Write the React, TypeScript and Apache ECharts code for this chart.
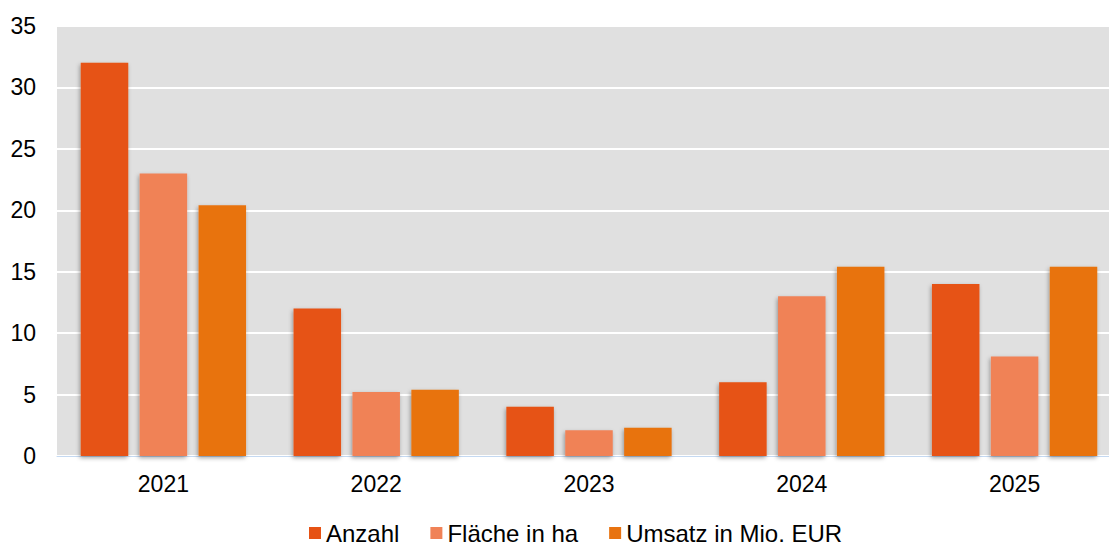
import React, { useEffect, useRef } from "react";
import * as echarts from "echarts";

const categories = ["2021", "2022", "2023", "2024", "2025"];
const anzahl = [32, 12, 4, 6, 14];
const flaeche = [23, 5.2, 2.1, 13, 8.1];
const umsatz = [20.4, 5.4, 2.3, 15.4, 15.4];
const seriesNames = ["Anzahl", "Fläche in ha", "Umsatz in Mio. EUR"];
const colors = ["#e65214", "#f08257", "#e87310"];

export default function App() {
  const ref = useRef<HTMLDivElement>(null);
  useEffect(() => {
    if (!ref.current) return;
    const chart = echarts.init(ref.current, null, { renderer: "svg" });
    const font = "Liberation Sans, Arial, sans-serif";
    const mk = (name: string, data: number[], color: string) => ({
      name,
      type: "bar",
      data,
      barWidth: 47.5,
      barGap: "24%",
      itemStyle: {
        color,
        shadowColor: "rgba(0,0,0,0.35)",
        shadowBlur: 4,
        shadowOffsetX: -1,
        shadowOffsetY: 2,
      },
    });
    chart.setOption({
      animation: false,
      textStyle: { fontFamily: font },
      grid: {
        left: 57,
        top: 26,
        width: 1064,
        height: 430,
        show: true,
        backgroundColor: "#e0e0e0",
        borderWidth: 0,
      },
      legend: {
        left: 309,
        top: 521,
        padding: 0,
        itemWidth: 12,
        itemHeight: 12,
        itemGap: 31,
        icon: "rect",
        textStyle: { fontSize: 24, lineHeight: 22, color: "#000", fontFamily: font },
        data: seriesNames,
      },
      xAxis: {
        type: "category",
        data: categories,
        axisTick: { show: false },
        axisLine: { show: true, lineStyle: { color: "#c5d9f1", width: 1 } },
        axisLabel: { fontSize: 23, color: "#000", margin: 16, fontFamily: font },
      },
      yAxis: {
        type: "value",
        min: 0,
        max: 35,
        interval: 5,
        axisLine: { show: false },
        axisTick: { show: false },
        splitLine: { show: true, lineStyle: { color: "#ffffff", width: 2 } },
        axisLabel: { fontSize: 23, color: "#000", margin: 21, fontFamily: font },
      },
      series: [
        mk(seriesNames[0], anzahl, colors[0]),
        mk(seriesNames[1], flaeche, colors[1]),
        mk(seriesNames[2], umsatz, colors[2]),
      ],
    });
    return () => chart.dispose();
  }, []);
  return (
    <div
      style={{ position: "fixed", left: 0, top: 0, width: 1109, height: 546, overflow: "hidden", background: "#fff" }}
    >
      <div ref={ref} style={{ width: 1140, height: 546 }} />
    </div>
  );
}
